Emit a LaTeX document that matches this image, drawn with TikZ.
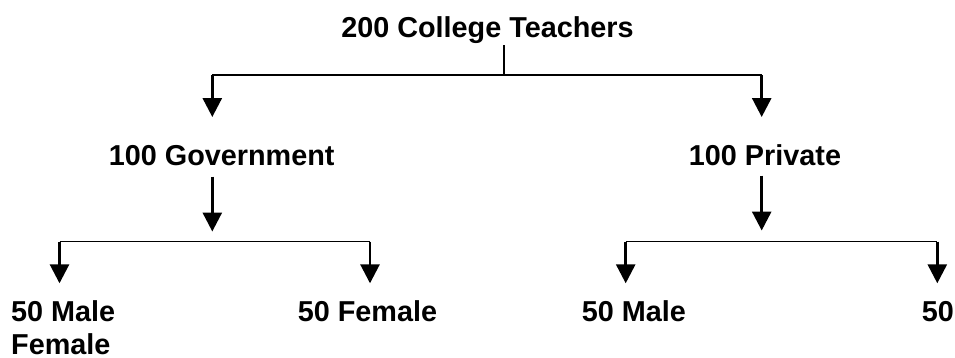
\documentclass[tikz,border=0pt]{standalone}
\usepackage{fontspec}
\setmainfont{Liberation Sans}
\usetikzlibrary{arrows.meta}
\tikzset{
  lbl/.style={inner sep=0pt, font=\fontsize{28.8}{33.3}\selectfont\bfseries},
  bar/.style={line width=1.6pt},
  stem/.style={line width=1.3pt},
  arr/.style={line width=2.8pt, -{Triangle[length=19pt,width=19pt]}}
}
\begin{document}
\begin{tikzpicture}[x=1pt,y=-1pt]
\useasboundingbox (0,0) rectangle (955,357);
% text nodes
\node[lbl, anchor=base] (top) at (487.5,37.3) {200 College Teachers};
\node[lbl, anchor=base] (gov) at (221.7,165) {100 Government};
\node[lbl, anchor=base] (priv) at (765,165) {100 Private};
\node[lbl, anchor=base west] (m1) at (11,321.5) {50 Male};
\node[lbl, anchor=base west] (m1b) at (11,354) {Female};
\node[lbl, anchor=base] (f1) at (367.5,321) {50 Female};
\node[lbl, anchor=base] (m2) at (634,321) {50 Male};
\node[lbl, anchor=base west] (f2) at (921.7,321) {50};
% junction coordinates
\coordinate (s0) at (504,45);
\coordinate (j0) at (504,75);
\coordinate (jL) at (212.3,75);
\coordinate (jR) at (761.7,75);
\coordinate (tL) at (212.3,117);
\coordinate (tR) at (761.7,117);
\coordinate (gs) at (212.3,176.5);
\coordinate (gt) at (212.3,231.5);
\coordinate (ps) at (761.7,175.5);
\coordinate (pt) at (761.7,230.5);
\coordinate (gL) at (59.5,241.5);
\coordinate (gR) at (370,241.5);
\coordinate (pL) at (625.7,241.5);
\coordinate (pR) at (937.3,241.5);
\coordinate (gLt) at (59.5,283.3);
\coordinate (gRt) at (370,283.3);
\coordinate (pLt) at (625.7,283.3);
\coordinate (pRt) at (937.3,283.3);
% top level
\draw[stem] (s0) -- (j0);
\draw[bar] (jL) -- (jR);
\draw[arr] (jL) -- (tL);
\draw[arr] (jR) -- (tR);
% government branch
\draw[arr] (gs) -- (gt);
\draw[bar] (gL) -- (gR);
\draw[arr] (gL) -- (gLt);
\draw[arr] (gR) -- (gRt);
% private branch
\draw[arr] (ps) -- (pt);
\draw[bar] (pL) -- (pR);
\draw[arr] (pL) -- (pLt);
\draw[arr] (pR) -- (pRt);
\end{tikzpicture}
\end{document}
